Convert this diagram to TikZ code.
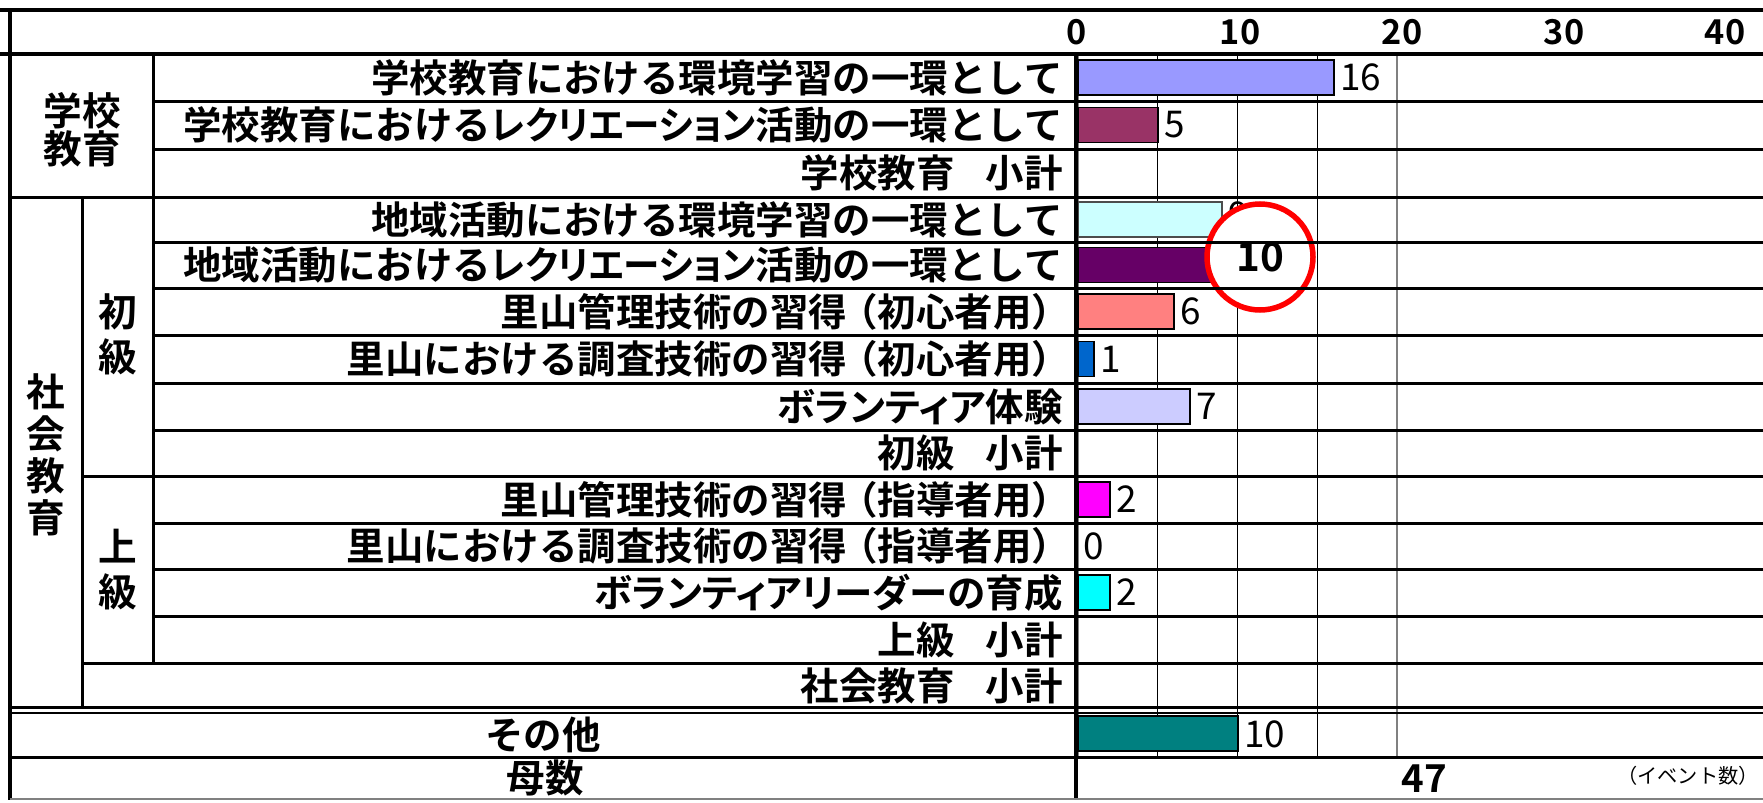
\documentclass[tikz,border=0pt]{standalone}
\usepackage{fontspec}
\setmainfont{Noto Sans CJK JP}[BoldFont={Noto Sans CJK JP Bold}]
\newfontfamily\kanafont{Noto Sans CJK JP}[BoldFont={Noto Sans CJK JP Bold}, RawFeature=+palt]
\usepackage{graphicx}
\newcommand{\kana}[1]{\scalebox{0.95}[1]{\kanafont #1}}
\newcommand{\openpar}{\kern-0.2em（}
\newcommand{\closepar}{）\kern-0.2em}
\newcommand{\gap}{\hspace{0.8em}}
\usepackage{tikz}
\usetikzlibrary{positioning}
\definecolor{barschoolenv}{HTML}{9999FF}
\definecolor{barschoolrec}{HTML}{993366}
\definecolor{barlocalenv}{HTML}{CCFFFF}
\definecolor{barlocalrec}{HTML}{660066}
\definecolor{barmanage}{HTML}{FF8080}
\definecolor{barsurvey}{HTML}{0066CC}
\definecolor{barvolunteer}{HTML}{CCCCFF}
\definecolor{barmanagelead}{HTML}{FF00FF}
\definecolor{barleader}{HTML}{00FFFF}
\definecolor{barother}{HTML}{008080}
\tikzstyle{rowlabel} = [anchor=east, inner sep=0pt, font=\bfseries\fontsize{21.9}{25}\selectfont]
\tikzstyle{centerlabel} = [inner sep=0pt, font=\bfseries\fontsize{21.9}{25}\selectfont]
\tikzstyle{grouplabel} = [align=center, inner sep=0pt]
\tikzstyle{barbox} = [draw=black, line width=0.3mm]
\tikzstyle{valuelabel} = [anchor=west, inner sep=0pt, font=\fontsize{21}{25}\selectfont]
\tikzstyle{headnum} = [inner sep=0pt, font=\bfseries\fontsize{19.5}{22}\selectfont]
\tikzstyle{framerule} = [line width=0.8mm]
\tikzstyle{rowrule} = [line width=0.6mm]
\tikzstyle{gridline} = [line width=0.2mm]

\begin{document}
\begin{tikzpicture}[x=0.2mm, y=-0.2mm]
    \useasboundingbox (0,0) rectangle (1763,802);
    % Grid
    \draw [gridline] (1157,54) -- (1157,757) (1237,54) -- (1237,757) (1317,54) -- (1317,757);
    \draw [gray, line width=0.3mm] (1078,54) rectangle (1397,757);
    % Bars
    \draw [barbox, fill=barschoolenv] (1078,60) rectangle (1334,95);
    \draw [barbox, fill=barschoolrec] (1078,107.5) rectangle (1158,142.5);
    \draw [barbox, draw=black!70, fill=barlocalenv] (1078,202) rectangle (1222,237);
    \draw [barbox, fill=barlocalrec] (1078,247.5) rectangle (1238,282.5);
    \draw [barbox, fill=barmanage] (1078,294) rectangle (1174,329);
    \draw [barbox, fill=barsurvey] (1078,341.5) rectangle (1094,376.5);
    \draw [barbox, fill=barvolunteer] (1078,389) rectangle (1190,424);
    \draw [barbox, fill=barmanagelead] (1078,482) rectangle (1110,517);
    \draw [barbox, fill=barleader] (1078,575) rectangle (1110,610);
    \draw [barbox, fill=barother] (1078,716) rectangle (1238,751);
    % Values
    \node (v_schoolenv) [valuelabel] at (1340,77.5) {16};
    \node (v_schoolrec) [valuelabel] at (1164,125) {5};
    \node (v_localenv) [valuelabel] at (1228,215) {9};
    \node (v_manage) [valuelabel] at (1180,311.5) {6};
    \node (v_survey) [valuelabel] at (1100,359) {1};
    \node (v_volunteer) [valuelabel] at (1196,406.5) {7};
    \node (v_managelead) [valuelabel] at (1116,499.5) {2};
    \node (v_surveylead) [valuelabel] at (1083,546) {0};
    \node (v_leader) [valuelabel] at (1116,592.5) {2};
    \node (v_other) [valuelabel] at (1244,734.5) {10};
    \node (v_total) [centerlabel] at (1424,779) {47};
    \node (unit) [anchor=east, inner sep=0pt, font=\fontsize{11.5}{13}\selectfont] at (1759,776) {（イベント数）};
    \node (mark) [circle, draw=red, line width=1.1mm, fill=white, minimum size=106*0.2mm, inner sep=0pt, font=\bfseries\fontsize{23}{26}\selectfont] at (1260,257) {10};
    % Axis
    \node (ax0) [headnum] at (1077,32) {0};
    \node (ax10) [headnum] at (1240,32) {10};
    \node (ax20) [headnum] at (1402,32) {20};
    \node (ax30) [headnum] at (1564,32) {30};
    \node (ax40) [headnum] at (1725,32) {40};
    % Table lines
    \draw [framerule] (0,10) -- (1763,10) (10,10) -- (10,800) (0,54) -- (1763,54) (1076,54) -- (1076,800);
    \draw [rowrule] (153,101) -- (1763,101) (153,149) -- (1763,149) (10,197) -- (1763,197);
    \draw [rowrule] (153,242) -- (1763,242) (153,288) -- (1763,288) (153,335) -- (1763,335) (153,383) -- (1763,383);
    \draw [rowrule] (153,430) -- (1763,430) (82,476) -- (1763,476) (153,523) -- (1763,523) (153,569) -- (1763,569);
    \draw [rowrule] (153,616) -- (1763,616) (82,663) -- (1763,663) (10,757) -- (1763,757);
    \draw [rowrule] (10,707) -- (1763,707);
    \draw [line width=0.4mm] (10,713) -- (1763,713);
    \draw [rowrule] (153,54) -- (153,663) (82,197) -- (82,707);
    \draw [gray, line width=0.3mm] (10,799) -- (1763,799);
    % Group labels
    \node (school) [grouplabel, font=\bfseries\fontsize{22}{21.6}\selectfont] at (82,130) {学校\\教育};
    \node (social) [grouplabel, font=\bfseries\fontsize{22}{24}\selectfont] at (46,455) {社\\会\\教\\育};
    \node (basic) [grouplabel, font=\bfseries\fontsize{22}{25.6}\selectfont] at (117.5,334) {初\\級};
    \node (advanced) [grouplabel, font=\bfseries\fontsize{22}{25.6}\selectfont] at (117.5,570) {上\\級};
    % Row labels
    \node (schoolenv) [rowlabel] at (1063,77.5) {学校教育における環境学習の一環として};
    \node (schoolrec) [rowlabel] at (1063,125) {学校教育における\kana{レクリエーション}活動の一環として};
    \node (schoolsum) [rowlabel] at (1063,173) {学校教育\gap 小計};
    \node (localenv) [rowlabel] at (1063,219.5) {地域活動における環境学習の一環として};
    \node (localrec) [rowlabel] at (1063,265) {地域活動における\kana{レクリエーション}活動の一環として};
    \node (manage) [rowlabel] at (1063,311.5) {里山管理技術の習得\openpar 初心者用\closepar};
    \node (survey) [rowlabel] at (1063,359) {里山における調査技術の習得\openpar 初心者用\closepar};
    \node (volunteer) [rowlabel] at (1063,406.5) {{\kanafont ボランティア}体験};
    \node (basicsum) [rowlabel] at (1063,453) {初級\gap 小計};
    \node (managelead) [rowlabel] at (1063,499.5) {里山管理技術の習得\openpar 指導者用\closepar};
    \node (surveylead) [rowlabel] at (1063,546) {里山における調査技術の習得\openpar 指導者用\closepar};
    \node (leader) [rowlabel] at (1063,592.5) {{\kanafont ボランティアリーダー}の育成};
    \node (advancedsum) [rowlabel] at (1063,639.5) {上級\gap 小計};
    \node (socialsum) [rowlabel] at (1063,685.5) {社会教育\gap 小計};
    \node (other) [centerlabel] at (543,734.5) {その他};
    \node (base) [centerlabel] at (545,777.5) {母数};
\end{tikzpicture}
\end{document}
